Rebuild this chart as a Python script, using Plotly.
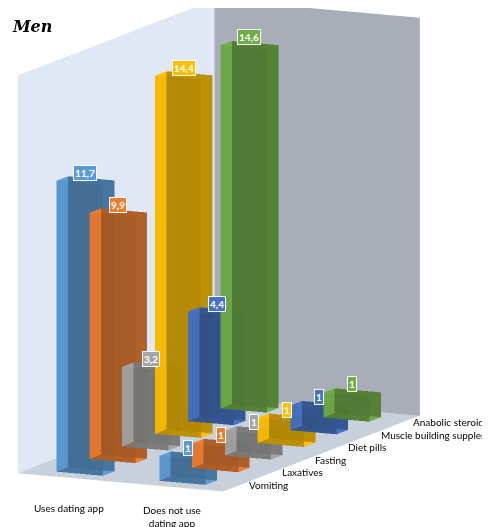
import plotly.graph_objects as go

groups = ["Uses dating app", "Does not use<br>dating app"]
series = ["Vomiting", "Laxatives", "Fasting", "Diet pills",
          "Muscle building supplements", "Anabolic steroids"]
uses_app = [11.7, 9.9, 3.2, 14.4, 4.4, 14.6]
no_app = [1, 1, 1, 1, 1, 1]
colors = ["#5b9bd5", "#ed7d31", "#a5a5a5", "#ffc000", "#4472c4", "#70ad47"]


def box(x0, y0, h, color, w=0.45, d=0.35):
    xs = [x0 - w/2, x0 + w/2, x0 + w/2, x0 - w/2] * 2
    ys = [y0 - d/2, y0 - d/2, y0 + d/2, y0 + d/2] * 2
    zs = [0] * 4 + [h] * 4
    i = [0, 0, 4, 4, 0, 0, 1, 1, 2, 2, 3, 3]
    j = [1, 2, 5, 6, 1, 5, 2, 6, 3, 7, 0, 4]
    k = [2, 3, 6, 7, 5, 4, 6, 5, 7, 6, 4, 7]
    return go.Mesh3d(x=xs, y=ys, z=zs, i=i, j=j, k=k, color=color, opacity=0.85,
                     flatshading=True, lighting=dict(ambient=0.7, diffuse=0.6),
                     hoverinfo="skip", showscale=False)


fig = go.Figure()
ann = []
for gi, vals in enumerate([uses_app, no_app]):
    for si, v in enumerate(vals):
        fig.add_trace(box(gi, si, v, colors[si]))
        ann.append(dict(x=gi, y=si, z=v, text="<b>%s</b>" % str(v).replace(".", ","),
                        showarrow=False, font=dict(color="white", size=10, family="Lato"),
                        bgcolor=colors[si], bordercolor="white", borderwidth=1, yshift=8))
for gi, g in enumerate(groups):
    ann.append(dict(x=gi, y=-0.5, z=0, text=g, showarrow=False, yshift=-30,
                    font=dict(size=10, family="Lato", color="black")))
for si, s in enumerate(series):
    ann.append(dict(x=1.5, y=si, z=0, text=s, showarrow=False, xanchor="left", xshift=8,
                    font=dict(size=10, family="Lato", color="black")))

ax = dict(visible=True, showgrid=False, zeroline=False, showticklabels=False,
          title="", showspikes=False, showbackground=True)
fig.update_layout(
    width=490, height=527, showlegend=False,
    paper_bgcolor="white",
    margin=dict(l=0, r=0, t=0, b=0),
    title=dict(text="<i><b>Men</b></i>", x=0.01, y=0.975, font=dict(size=16, family="DejaVu Serif", color="black")),
    scene=dict(
        domain=dict(x=[0, 1], y=[0.04, 1]),
        xaxis=dict(ax, range=[-0.5, 1.5], backgroundcolor="#dfe8f4"),
        yaxis=dict(ax, range=[-0.5, 5.5], backgroundcolor="#a8aeb8"),
        zaxis=dict(ax, range=[0, 16], backgroundcolor="#c8d0dc"),
        aspectmode="manual", aspectratio=dict(x=0.9, y=1.8, z=1.6),
        camera=dict(eye=dict(x=1.3, y=-2.4, z=0.45), up=dict(x=0, y=0, z=1),
                    center=dict(x=0.15, y=0, z=-0.05),
                    projection=dict(type="orthographic")),
        annotations=ann,
    ),
)
fig.write_html("out.html")
